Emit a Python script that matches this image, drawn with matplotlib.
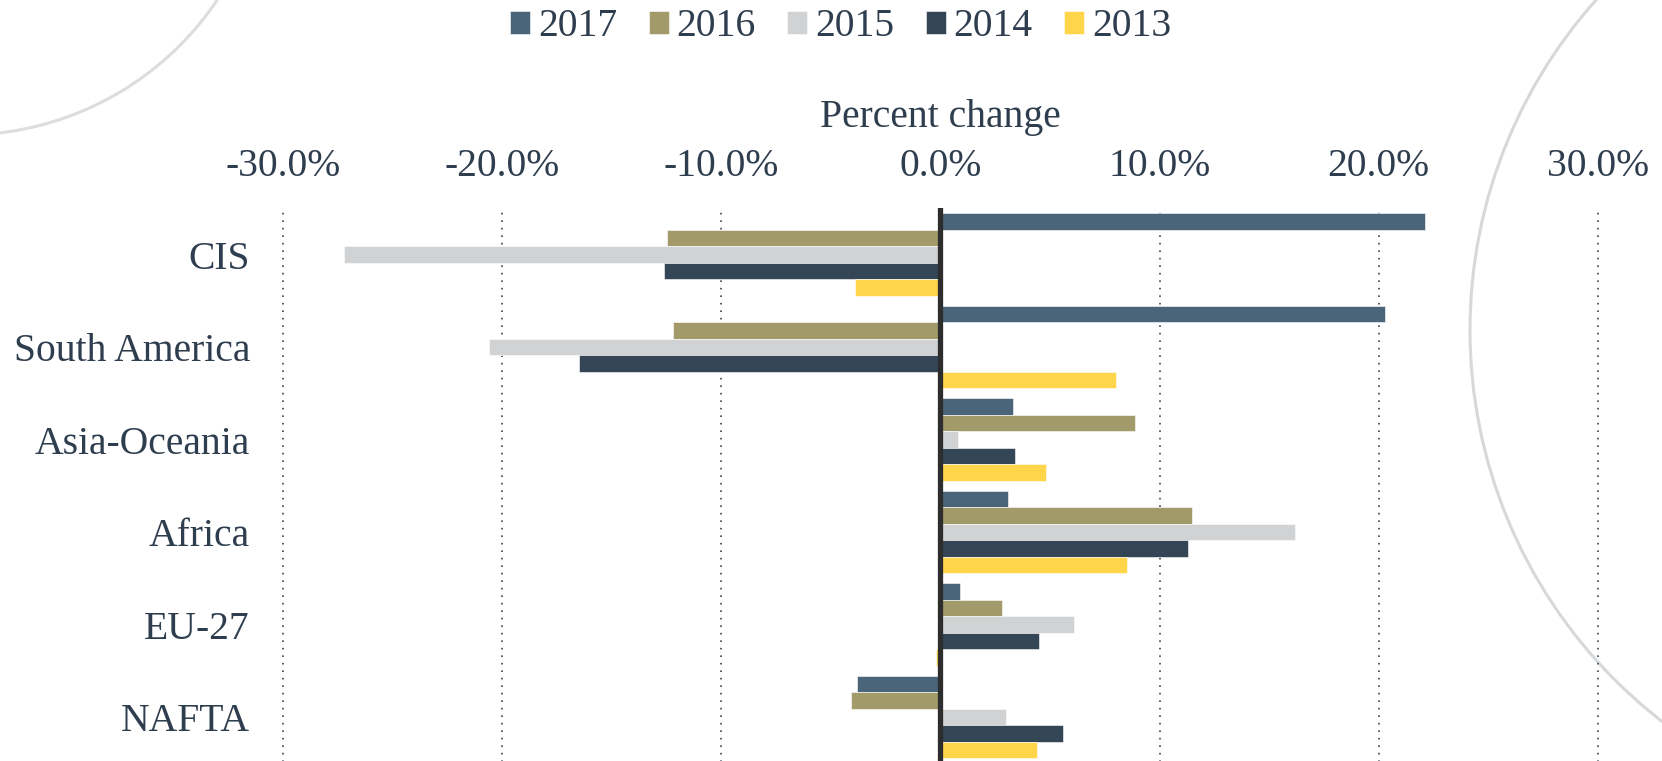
import numpy as np
import matplotlib
matplotlib.use("Agg")
from matplotlib import pyplot as plt
from matplotlib.patches import Circle

regions = ['CIS', 'South America', 'Asia-Oceania', 'Africa', 'EU-27', 'NAFTA']
years = ['2017', '2016', '2015', '2014', '2013']

# percent change per region, one list per year
pct_2017 = [22.1, 20.3, 3.3, 3.1, 0.9, -3.8]
pct_2016 = [-12.5, -12.2, 8.9, 11.5, 2.8, -4.1]
pct_2015 = [-27.2, -20.6, 0.8, 16.2, 6.1, 3.0]
pct_2014 = [-12.6, -16.5, 3.4, 11.3, 4.5, 5.6]
pct_2013 = [-3.9, 8.0, 4.8, 8.5, -0.2, 4.4]
series = [pct_2017, pct_2016, pct_2015, pct_2014, pct_2013]

colors = ['#4A6479', '#A39A6A', '#D1D2D4', '#344656', '#FFD54A']
text_color = '#2F3E4E'

plt.rcParams['font.family'] = ['Liberation Serif', 'DejaVu Serif']

W, H = 1662, 761
fig = plt.figure(figsize=(W / 100, H / 100), dpi=100)
fig.patch.set_facecolor('white')

# decorative background arcs, in pixel units
bg = fig.add_axes([0, 0, 1, 1], zorder=0)
bg.set_xlim(0, W)
bg.set_ylim(H, 0)
bg.axis('off')
bg.add_patch(Circle((-36, -170), 305, fill=False, ec='#DCDDDF', lw=2.2))
bg.add_patch(Circle((1965, 330), 495, fill=False, ec='#D6D8DA', lw=2.2))

# main axes placed so that 0 sits at x=940 px and 10% spans ~219 px
x0_px, ten_px = 940.4, 219.1
xmin, xmax = -30.5, 30.5
left = (x0_px + xmin * ten_px / 10) / W
width = (xmax - xmin) * ten_px / 10 / W
pitch = 92.5
top_px = 208.3
ax = fig.add_axes([left, 1 - (top_px + 6 * pitch) / H, width, 6 * pitch / H], zorder=1)
ax.patch.set_alpha(0)

y = np.arange(len(regions))
h = 16.5 / pitch
for i, (yr, vals, c) in enumerate(zip(years, series, colors)):
    ax.barh(y + (i - 2) * h, vals, height=h, color=c, label=yr,
            edgecolor='white', linewidth=0.4, zorder=2)

ax.axvline(0, color='#2D2D2D', lw=3.8, zorder=3)

ax.set_xlim(xmin, xmax)
ax.set_ylim(len(regions) - 0.5, -0.5)
ax.set_xticks([-30, -20, -10, 0, 10, 20, 30])
ax.set_xticklabels(['-30.0%', '-20.0%', '-10.0%', '0.0%', '10.0%', '20.0%', '30.0%'])
ax.set_yticks(y)
ax.set_yticklabels(regions)
ax.xaxis.tick_top()
ax.tick_params(axis='x', length=0, pad=16.5, labelsize=28.5, labelcolor=text_color)
ax.tick_params(axis='y', length=0, pad=16, labelsize=28.5, labelcolor=text_color)
for s in ax.spines.values():
    s.set_visible(False)

for gx in [-30, -20, -10, 10, 20, 30]:
    ax.axvline(gx, color='#3A4654', lw=1.2, ls=(0, (1, 3.5)), zorder=1)

fig.text(left + width / 2, 1 - 127 / H, 'Percent change', ha='center', va='baseline',
         fontsize=28.5, color=text_color)

leg = fig.legend(*ax.get_legend_handles_labels(), loc='center',
                 bbox_to_anchor=(840.7 / W, 1 - 27 / H), ncol=5, frameon=False,
                 fontsize=28.5, handlelength=0.5, handleheight=0.5,
                 handletextpad=0.2, columnspacing=0.8, borderpad=0)
for t in leg.get_texts():
    t.set_color(text_color)

fig.savefig('out.png', dpi=100)
